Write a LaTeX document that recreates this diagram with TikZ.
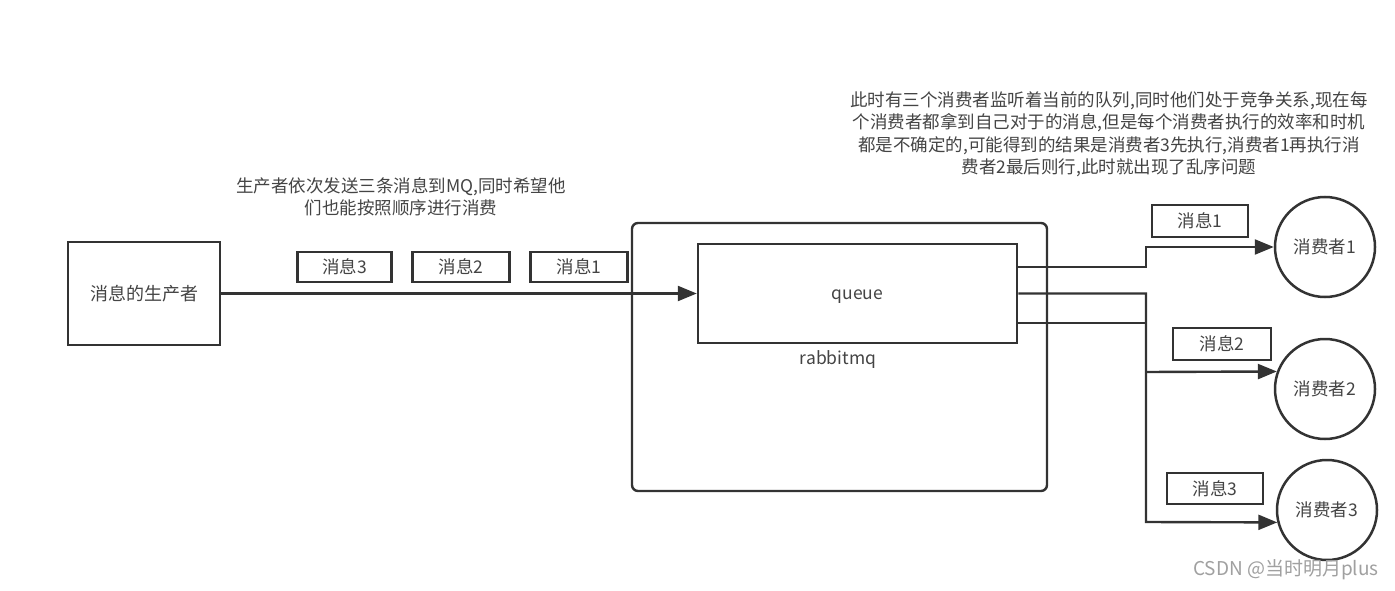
\documentclass[tikz,border=0pt]{standalone}
\usepackage{fontspec}
\setmainfont{Noto Sans CJK SC}
\usetikzlibrary{arrows.meta}
\definecolor{ink}{HTML}{333333}
\definecolor{txt}{HTML}{444444}
\definecolor{wm}{HTML}{A0A0A0}
\begin{document}
\begin{tikzpicture}[x=1pt,y=-1pt,
  every node/.style={text=txt,font=\fontsize{17.5}{22.5}\selectfont},
  box/.style={draw=ink,line width=2.5pt,inner sep=0pt},
  msgbox/.style={box,minimum width=95pt,minimum height=30pt},
  consumer/.style={draw=ink,line width=2.5pt,circle,minimum size=100pt,inner sep=0pt},
  conn/.style={draw=ink,line width=2.4pt},
  arr/.style={conn,-{Triangle[length=19pt,width=15pt]}},
  plain/.style={inner sep=0pt,align=center}]
\useasboundingbox (0,0) rectangle (1395,591);
\fill[white] (0,0) rectangle (1395,591);
% rabbitmq container
\draw[conn,rounded corners=6pt] (632,223) rectangle (1047,491);
\node[plain] (rmq) at (838,360) {rabbitmq};
% queue
\node[box,minimum width=319pt,minimum height=99pt] (queue) at (857.5,293.5) {};
\node[plain] (qlabel) at ([yshift=-3.5pt]queue.center) {queue};
% producer
\node[box,minimum width=152pt,minimum height=103pt] (prod) at (144,293.5) {\fontsize{18}{22}\selectfont 消息的生产者};
\draw[arr] (prod.east) -- (queue.west);
% messages in flight
\node[msgbox,minimum width=94pt] (m3) at (344.5,267) {消息3};
\node[msgbox,minimum width=97pt] (m2) at (461,267) {消息2};
\node[msgbox,minimum width=97pt] (m1) at (579,267) {消息1};
\node[plain] (ptext) at (401,197) {生产者依次发送三条消息到MQ,同时希望他\\们也能按照顺序进行消费};
% consumers
\node[consumer] (c1) at (1325,247) {消费者1};
\node[consumer] (c2) at (1325,389) {消费者2};
\node[consumer] (c3) at (1327,510) {消费者3};
\node[msgbox,minimum width=96pt,minimum height=32pt] (o1) at (1200,221) {消息1};
\node[msgbox,minimum width=98pt,minimum height=32pt] (o2) at (1222,344) {消息2};
\node[msgbox,minimum width=96pt,minimum height=31pt] (o3) at (1215,488.5) {消息3};
% connectors from queue
\coordinate (j1) at (1146,267);
\coordinate (j2) at (1146,293.5);
\coordinate (j3) at (1146,323);
\coordinate (j4) at (1146,372);
\coordinate (j5) at (1146,522);
\draw[arr] ([yshift=26.5pt]queue.east) -- (j1) -- (j1 |- c1) -- (c1.west);
\draw[arr] (queue.east) -- (j2) -- (j5) -- (c3.194);
\draw[conn] ([yshift=-29.5pt]queue.east) -- (j3);
\draw[arr] (j4) -- (c2.160);
% description
\node[plain] (desc) at (1109,134.5) {此时有三个消费者监听着当前的队列,同时他们处于竞争关系,现在每\\个消费者都拿到自己对于的消息,但是每个消费者执行的效率和时机\\都是不确定的,可能得到的结果是消费者3先执行,消费者1再执行消\\费者2最后则行,此时就出现了乱序问题};
% watermark
\node[plain,text=wm,anchor=east,font=\fontsize{19}{22}\selectfont] (wmk) at (1379,570) {CSDN @当时明月plus};
\end{tikzpicture}
\end{document}
